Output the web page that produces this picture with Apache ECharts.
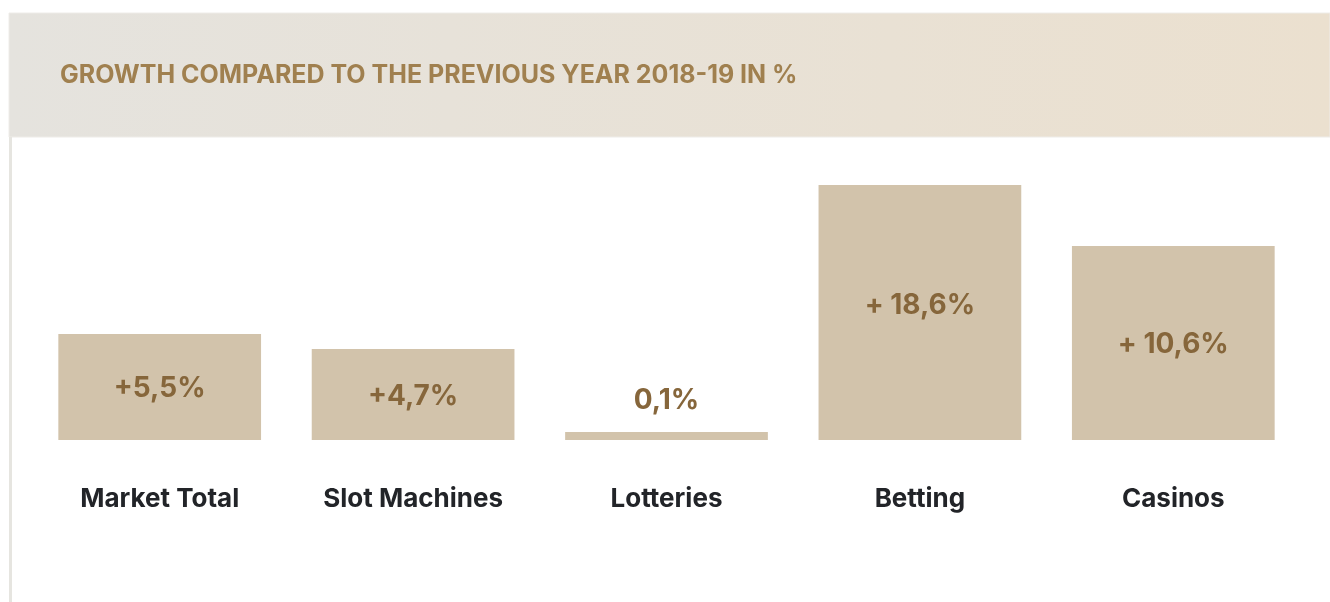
<!DOCTYPE html>
<html>
<head>
<meta charset="utf-8">
<script src="https://cdn.jsdelivr.net/npm/echarts@6/dist/echarts.min.js"></script>
<style>
  html, body { margin: 0; padding: 0; background: #fff; }
  #chart { width: 1330px; height: 602px; }
</style>
</head>
<body>
<div id="chart"></div>
<script>
// categories and labels as printed on the bars
const categories = ['Market Total', 'Slot Machines', 'Lotteries', 'Betting', 'Casinos'];
const growthLabels = ['+5,5%', '+4,7%', '0,1%', '+ 18,6%', '+ 10,6%'];
// bars in the source are not drawn to scale, so heights are read off the picture
const barHeights = [106, 91, 8, 255, 194];
const title = 'GROWTH COMPARED TO THE PREVIOUS YEAR 2018-19 IN %';

const chart = echarts.init(document.getElementById('chart'));

const option = {
  backgroundColor: '#fff',
  animation: false,
  graphic: [
    {
      type: 'rect',
      shape: { x: 9, y: 13, width: 1321, height: 124 },
      style: {
        fill: new echarts.graphic.LinearGradient(0, 0, 1, 0, [
          { offset: 0, color: '#e5e3de' },
          { offset: 1, color: '#ebe0cf' }
        ]),
        stroke: '#eeece8',
        lineWidth: 1
      },
      silent: true
    },
    {
      type: 'rect',
      shape: { x: 9, y: 137, width: 3, height: 465 },
      style: { fill: '#e6e5e0' },
      silent: true
    },
    {
      type: 'text',
      left: 60,
      top: 63,
      style: {
        text: title,
        fill: '#a0804f',
        font: '700 25px Inter, "Open Sans", sans-serif'
      }
    }
  ],
  grid: {
    left: 33,
    right: 30,
    top: 185,
    bottom: 162
  },
  xAxis: {
    type: 'category',
    data: categories,
    axisLine: { show: false },
    axisTick: { show: false },
    axisLabel: {
      margin: 46,
      color: '#222428',
      fontSize: 26,
      fontWeight: 700,
      fontFamily: 'Inter, "Open Sans", sans-serif'
    }
  },
  yAxis: {
    type: 'value',
    min: 0,
    max: 255,
    show: false,
    splitLine: { show: false }
  },
  series: [
    {
      type: 'bar',
      data: barHeights.map((v, i) => {
        if (i === 2) return { value: v, label: { position: 'top', distance: 17 } };
        if (i === 3) return { value: v, label: { offset: [0, -7] } };
        return { value: v, label: { offset: [0, 2] } };
      }),
      barCategoryGap: '20%',
      itemStyle: { color: '#d2c3ab' },
      label: {
        show: true,
        position: 'inside',
        formatter: p => growthLabels[p.dataIndex],
        color: '#86663b',
        fontSize: 28,
        fontWeight: 700,
        fontFamily: 'Inter, "Open Sans", sans-serif'
      }
    }
  ]
};

chart.setOption(option);
window.addEventListener('resize', () => chart.resize());
</script>
</body>
</html>
